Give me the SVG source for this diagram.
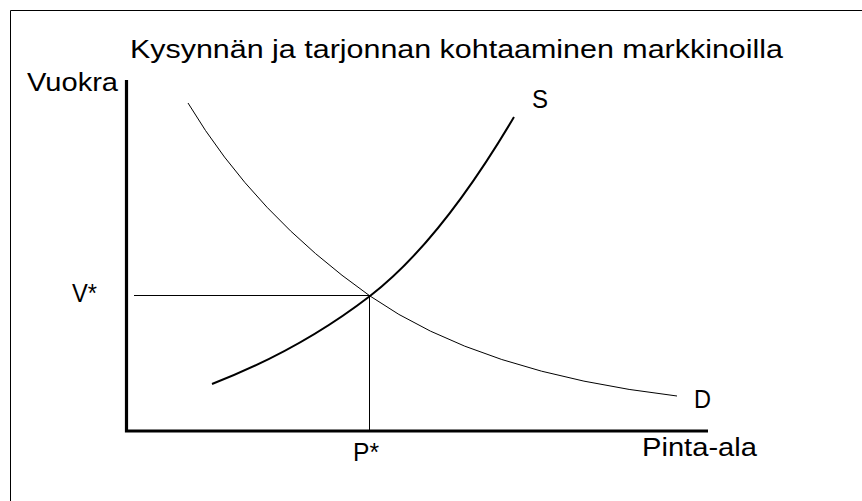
<svg xmlns="http://www.w3.org/2000/svg" width="862" height="501" viewBox="0 0 862 501">
<style>
text{font-family:"Liberation Sans",Arial,sans-serif;font-size:26px;fill:#000}
.thin{stroke:#000;stroke-width:1;fill:none}
.axis{stroke:#000;stroke-width:3.2;fill:none}
</style>
<rect x="0" y="0" width="862" height="501" fill="#fff"/>
<g id="frame"><path d="M10.5,501 V10.5 H862" class="thin" stroke="#111"/></g>
<g id="title"><text x="130" y="58" textLength="653" lengthAdjust="spacingAndGlyphs">Kysynnän ja tarjonnan kohtaaminen markkinoilla</text></g>
<g id="axes">
<path d="M126.5,80 V431 H708" class="axis"/>
<text x="27" y="91" textLength="91" lengthAdjust="spacingAndGlyphs">Vuokra</text>
<text x="642" y="456" textLength="115" lengthAdjust="spacingAndGlyphs">Pinta-ala</text>
</g>
<g id="guides">
<path d="M134,295.5 H370 M369.5,295.5 V431" class="thin"/>
<text x="72" y="302" textLength="25" lengthAdjust="spacingAndGlyphs">V*</text>
<text x="353" y="461" textLength="26" lengthAdjust="spacingAndGlyphs">P*</text>
</g>
<g id="supply">
<path d="M212,384 Q300,350 370,296 Q440,242 514,117" stroke="#000" stroke-width="2" fill="none"/>
<text x="532" y="108" textLength="16" lengthAdjust="spacingAndGlyphs">S</text>
</g>
<g id="demand">
<path d="M188,103 Q255,215 370,296 Q480,373 677,396" class="thin"/>
<text x="694" y="408" textLength="17" lengthAdjust="spacingAndGlyphs">D</text>
</g>
</svg>
